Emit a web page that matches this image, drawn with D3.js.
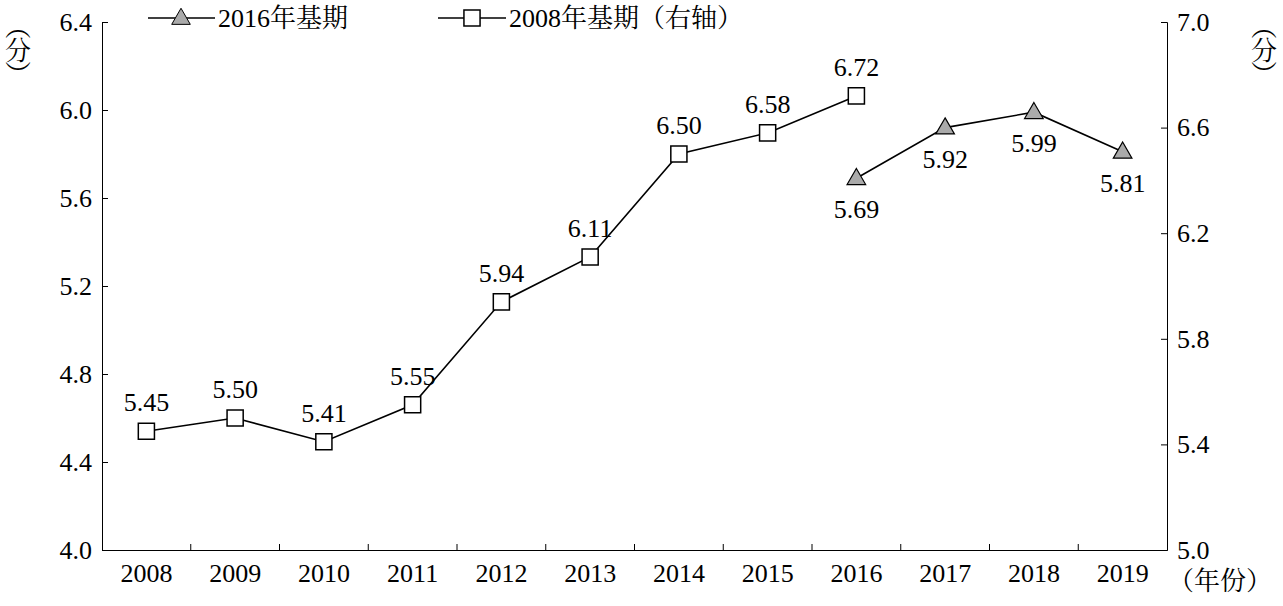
<!DOCTYPE html>
<html><head><meta charset="utf-8">
<script src="https://cdn.jsdelivr.net/npm/d3@7"></script>
<style>body{margin:0;background:#fff}svg text{font-family:"Liberation Serif","Times New Roman","DejaVu Serif","Noto Serif CJK SC","Noto Sans CJK SC",serif !important}</style>
</head><body><svg id="c" width="1283" height="606"></svg>
<script>
const years = ["2008","2009","2010","2011","2012","2013","2014","2015","2016","2017","2018","2019"]
const base2008 = [5.45,5.50,5.41,5.55,5.94,6.11,6.50,6.58,6.72]
const base2016 = [5.69,5.92,5.99,5.81]
const years2016 = ["2016","2017","2018","2019"]
const leftTicks = [4.0,4.4,4.8,5.2,5.6,6.0,6.4]
const rightTicks = [5.0,5.4,5.8,6.2,6.6,7.0]

const svg = d3.select("#c")
const m = {left: 102, right: 1167, top: 22, bottom: 550}
const fs = 26
const ff = '"Liberation Serif","Times New Roman","DejaVu Serif",serif'

const x = d3.scaleBand().domain(years).range([m.left, m.right])
const yL = d3.scaleLinear().domain([4.0, 6.4]).range([m.bottom, m.top])
const yR = d3.scaleLinear().domain([5.0, 7.0]).range([m.bottom, m.top])

const fmt = d3.format(".1f")
svg.append("g").attr("transform", `translate(${m.left},0)`)
  .call(d3.axisRight(yL).tickValues(leftTicks).tickFormat(fmt).tickSize(6))
  .call(g => g.selectAll("text").attr("x", -10).attr("text-anchor", "end"))
svg.append("g").attr("transform", `translate(${m.right},0)`)
  .call(d3.axisLeft(yR).tickValues(rightTicks).tickFormat(fmt).tickSize(6))
  .call(g => g.selectAll("text").attr("x", 10).attr("text-anchor", "start"))
svg.append("g").attr("transform", `translate(0,${m.bottom})`)
  .call(d3.axisBottom(x).tickSize(0).tickSizeOuter(0))
  .call(g => g.selectAll("text").attr("dy", "1.1em"))
svg.selectAll("g").attr("font-family", ff)
// category boundary ticks
svg.append("g").selectAll("line").data(years.slice(1)).join("line")
  .attr("x1", d => x(d)).attr("x2", d => x(d))
  .attr("y1", m.bottom).attr("y2", m.bottom - 6).attr("stroke", "#000")
svg.selectAll(".tick text").attr("font-size", fs).attr("fill", "#000")
svg.selectAll(".domain, .tick line").attr("stroke", "#000")

const cx = d => x(d) + x.bandwidth() / 2
const line8 = d3.line().x((d, i) => cx(years[i])).y(d => yR(d))
const line16 = d3.line().x((d, i) => cx(years2016[i])).y(d => yL(d))

svg.append("path").attr("d", line8(base2008)).attr("fill", "none").attr("stroke", "#000").attr("stroke-width", 1.6)
svg.append("path").attr("d", line16(base2016)).attr("fill", "none").attr("stroke", "#000").attr("stroke-width", 1.6)

const sq = d3.symbol().type(d3.symbolSquare).size(260)
const tri = d3.symbol().type(d3.symbolTriangle).size(150)

svg.append("g").selectAll("path").data(base2008).join("path")
  .attr("d", sq).attr("transform", (d, i) => `translate(${cx(years[i])},${yR(d)})`)
  .attr("fill", "#fff").attr("stroke", "#000").attr("stroke-width", 1.5)
svg.append("g").selectAll("text").data(base2008).join("text")
  .attr("x", (d, i) => cx(years[i])).attr("y", d => yR(d) - 20)
  .attr("text-anchor", "middle").attr("font-size", fs).attr("font-family", ff).text(d => d.toFixed(2))

svg.append("g").selectAll("path").data(base2016).join("path")
  .attr("d", tri).attr("transform", (d, i) => `translate(${cx(years2016[i])},${yL(d) + 1})`)
  .attr("fill", "#aaa").attr("stroke", "#000").attr("stroke-width", 1.2)
svg.append("g").selectAll("text").data(base2016).join("text")
  .attr("x", (d, i) => cx(years2016[i])).attr("y", d => yL(d) + 40)
  .attr("text-anchor", "middle").attr("font-size", fs).attr("font-family", ff).text(d => d.toFixed(2))

// legend
const lg = svg.append("g").attr("font-family", ff)
lg.append("line").attr("x1", 148).attr("x2", 215).attr("y1", 18).attr("y2", 18).attr("stroke", "#000").attr("stroke-width", 1.6)
lg.append("path").attr("d", tri).attr("transform", "translate(181,19)").attr("fill", "#aaa").attr("stroke", "#000")
lg.append("text").attr("x", 218).attr("y", 27).attr("font-size", fs).text("2016年基期")
lg.append("line").attr("x1", 438).attr("x2", 506).attr("y1", 18).attr("y2", 18).attr("stroke", "#000").attr("stroke-width", 1.6)
lg.append("path").attr("d", sq).attr("transform", "translate(472,18)").attr("fill", "#fff").attr("stroke", "#000").attr("stroke-width", 1.5)
lg.append("text").attr("x", 509).attr("y", 27).attr("font-size", fs).text("2008年基期（右轴）")

// unit labels (vertical)
const vert = xp => {
  const t = svg.append("text").attr("font-size", fs).attr("font-family", ff).attr("text-anchor", "middle")
  ;["︵", "分", "︶"].forEach((c, i) => t.append("tspan").attr("x", xp).attr("y", 36 + i * 24).text(c))
}
vert(18)
vert(1264)
svg.append("text").attr("x", 1168).attr("y", 590).attr("font-size", fs).attr("font-family", ff).text("（年份）")
</script></body></html>
